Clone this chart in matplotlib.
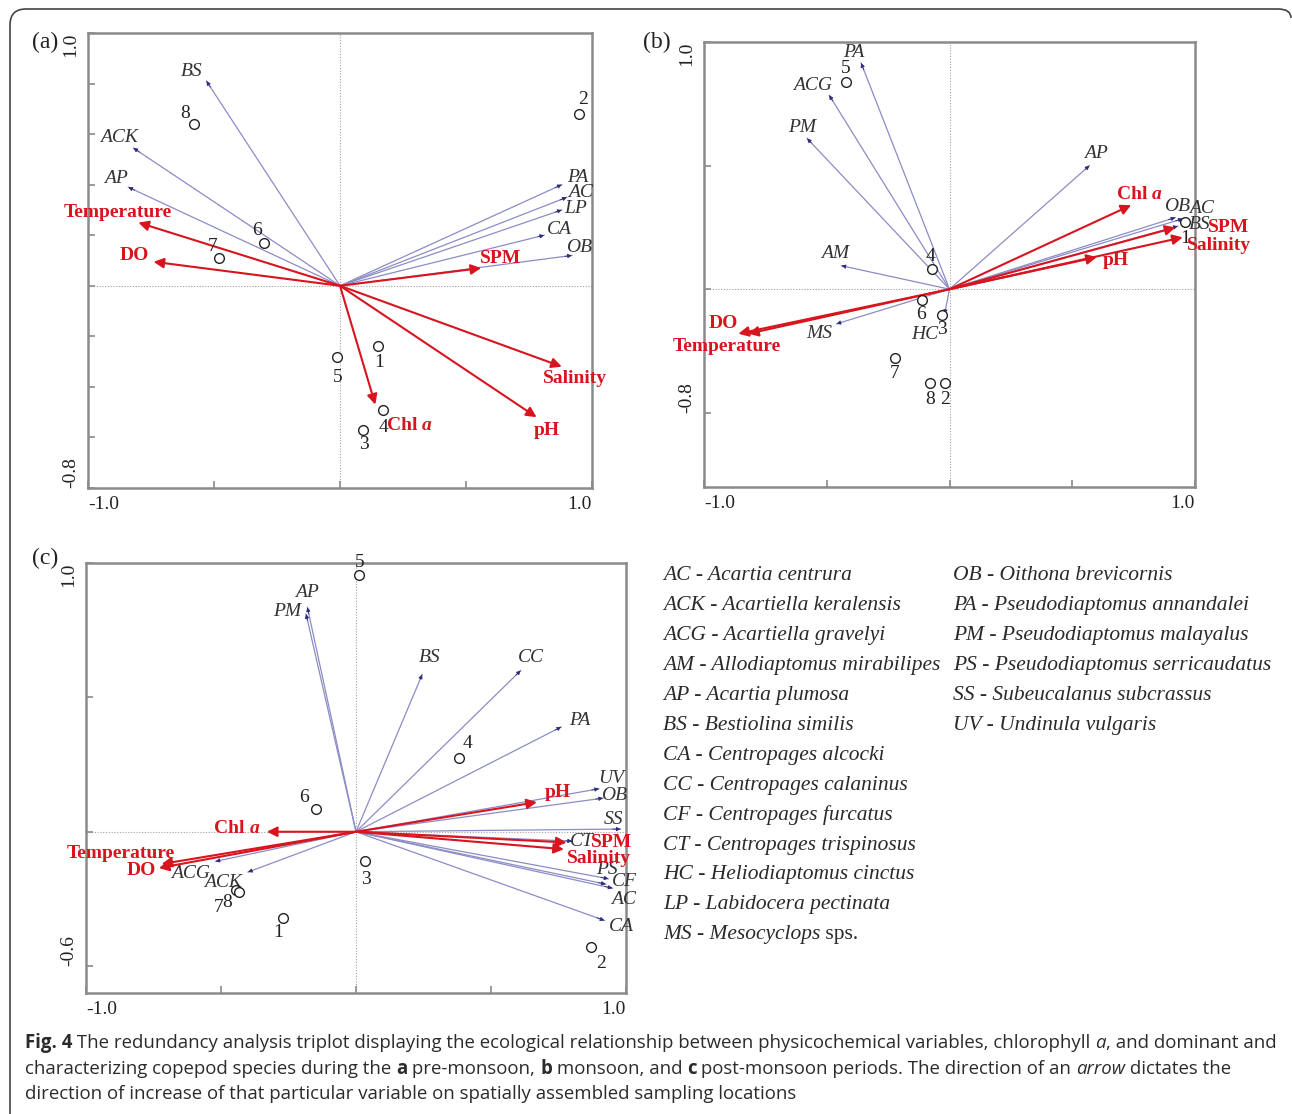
#!/usr/bin/env python3
"""
RDA triplots (pre-monsoon, monsoon, post-monsoon) with species key and caption.
"""

import matplotlib
matplotlib.use('Agg')
import matplotlib.pyplot as plt
from matplotlib.path import Path
from matplotlib.patches import PathPatch
import matplotlib.transforms as mtransforms

# ---------------- data ----------------
# (a) pre-monsoon
a_species = ['BS', 'ACK', 'AP', 'PA', 'AC', 'LP', 'CA', 'OB']
a_sp_x = [-0.53, -0.82, -0.84, 0.88, 0.90, 0.88, 0.81, 0.92]
a_sp_y = [0.81, 0.545, 0.39, 0.40, 0.35, 0.30, 0.20, 0.12]
a_env = ['Temperature', 'DO', 'SPM', 'Salinity', 'pH', 'Chl a']
a_env_x = [-0.80, -0.74, 0.56, 0.88, 0.78, 0.14]
a_env_y = [0.25, 0.095, 0.07, -0.32, -0.52, -0.47]
a_sites = ['1', '2', '3', '4', '5', '6', '7', '8']
a_site_x = [0.15, 0.95, 0.09, 0.17, -0.01, -0.30, -0.48, -0.58]
a_site_y = [-0.24, 0.68, -0.57, -0.49, -0.28, 0.17, 0.11, 0.64]

# (b) monsoon
b_species = ['PA', 'ACG', 'PM', 'AM', 'MS', 'HC', 'AP', 'OB', 'AC', 'BS']
b_sp_x = [-0.36, -0.49, -0.58, -0.44, -0.46, -0.02, 0.57, 0.92, 0.95, 0.93]
b_sp_y = [0.915, 0.785, 0.61, 0.095, -0.14, -0.10, 0.50, 0.29, 0.285, 0.255]
b_env = ['Chl a', 'SPM', 'Salinity', 'pH', 'DO', 'Temperature']
b_env_x = [0.74, 0.92, 0.95, 0.60, -0.86, -0.82]
b_env_y = [0.34, 0.25, 0.21, 0.13, -0.18, -0.18]
b_sites = ['1', '2', '3', '4', '5', '6', '7', '8']
b_site_x = [0.96, -0.02, -0.03, -0.07, -0.42, -0.11, -0.22, -0.08]
b_site_y = [0.27, -0.38, -0.105, 0.08, 0.84, -0.045, -0.28, -0.38]

# (c) post-monsoon
c_species = ['AP', 'PM', 'BS', 'CC', 'PA', 'UV', 'OB', 'SS', 'CT', 'PS', 'CF', 'AC', 'CA', 'ACG', 'ACK']
c_sp_x = [-0.18, -0.185, 0.245, 0.61, 0.76, 0.90, 0.915, 0.98, 0.80, 0.935, 0.925, 0.95, 0.92, -0.52, -0.40]
c_sp_y = [0.835, 0.81, 0.585, 0.60, 0.39, 0.16, 0.125, 0.01, -0.035, -0.175, -0.195, -0.21, -0.33, -0.11, -0.15]
c_env = ['pH', 'Chl a', 'SPM', 'Salinity', 'Temperature', 'DO']
c_env_x = [0.67, -0.33, 0.78, 0.77, -0.72, -0.73]
c_env_y = [0.11, 0.0, -0.04, -0.065, -0.12, -0.135]
c_sites = ['1', '2', '3', '4', '5', '6', '7', '8']
c_site_x = [-0.27, 0.87, 0.035, 0.38, 0.01, -0.15, -0.445, -0.435]
c_site_y = [-0.32, -0.43, -0.11, 0.275, 0.955, 0.085, -0.215, -0.225]

key_col1 = [('AC', 'Acartia centrura'), ('ACK', 'Acartiella keralensis'),
            ('ACG', 'Acartiella gravelyi'), ('AM', 'Allodiaptomus mirabilipes'),
            ('AP', 'Acartia plumosa'), ('BS', 'Bestiolina similis'),
            ('CA', 'Centropages alcocki'), ('CC', 'Centropages calaninus'),
            ('CF', 'Centropages furcatus'), ('CT', 'Centropages trispinosus'),
            ('HC', 'Heliodiaptomus cinctus'), ('LP', 'Labidocera pectinata'),
            ('MS', 'Mesocyclops')]
key_col2 = [('OB', 'Oithona brevicornis'), ('PA', 'Pseudodiaptomus annandalei'),
            ('PM', 'Pseudodiaptomus malayalus'), ('PS', 'Pseudodiaptomus serricaudatus'),
            ('SS', 'Subeucalanus subcrassus'), ('UV', 'Undinula vulgaris')]

# ---------------- layout / style ----------------
W, H = 1292, 1114
SERIF = 'Liberation Serif'
RED = '#d8141e'
LINE_BLUE = '#8c8cc6'
HEAD_BLUE = '#2c2c7a'
SPINE = '#8a8a8a'

# label offsets in pixels (dx, dy up) relative to arrow tip / site
a_sp_off = {'BS': (-15, 10), 'ACK': (-14, 11), 'AP': (-12, 9), 'PA': (16, 7),
            'AC': (14, 5), 'LP': (14, 1), 'CA': (15, 6), 'OB': (7, 8)}
a_env_off = {'Temperature': (-21, 10), 'DO': (-19, 6), 'SPM': (19, 10),
             'Salinity': (13, -12), 'pH': (10, -13), 'Chl a': (34, -21)}
a_site_off = {'1': (1, -16), '2': (4, 14), '3': (1, -15), '4': (1, -18),
              '5': (0, -21), '6': (-7, 12), '7': (-6, 11), '8': (-9, 11)}

b_sp_off = {'PA': (-7, 11), 'ACG': (-17, 10), 'PM': (-5, 11), 'AM': (-6, 12),
            'MS': (-17, -10), 'HC': (-20, -21), 'AP': (7, 12), 'OB': (2, 11),
            'AC': (19, 10), 'BS': (22, 2)}
b_env_off = {'Chl a': (8, 11), 'SPM': (53, 0), 'Salinity': (36, -8), 'pH': (19, -3),
             'DO': (-15, 10), 'Temperature': (-21, -13)}
b_site_off = {'1': (0, -16), '2': (0, -16), '3': (0, -14), '4': (-2, 13),
              '5': (-1, 13), '6': (-1, -14), '7': (-1, -15), '8': (0, -16)}

c_sp_off = {'AP': (0, 15), 'PM': (-19, 3), 'BS': (7, 17), 'CC': (10, 13), 'PA': (19, 6),
            'UV': (12, 10), 'OB': (11, 3), 'SS': (-7, 10), 'CT': (10, 0), 'PS': (-2, 9),
            'CF': (19, 3), 'AC': (11, -11), 'CA': (17, -6), 'ACG': (-25, -12),
            'ACK': (-25, -10)}
c_env_off = {'pH': (21, 10), 'Chl a': (-30, 3), 'SPM': (45, 0), 'Salinity': (35, -9),
             'Temperature': (-41, 11), 'DO': (-18, -2)}
c_site_off = {'1': (-5, -15), '2': (10, -16), '3': (0, -18), '4': (9, 14),
              '5': (1, 13), '6': (-12, 11), '7': (-17, -18), '8': (-11, -10)}

fig = plt.figure(figsize=(W / 100, H / 100), dpi=100)
fig.patch.set_facecolor('white')
renderer = fig.canvas.get_renderer()


def rect(l, t, r, b):
    return [l / W, (H - b) / H, (r - l) / W, (b - t) / H]


def adv(s, **kw):
    """advance width of s in pixels (spaces included)"""
    t1 = fig.text(0, 0, 'x' + s + 'x', **kw)
    t0 = fig.text(0, 0, 'xx', **kw)
    w = t1.get_window_extent(renderer).width - t0.get_window_extent(renderer).width
    t1.remove()
    t0.remove()
    return w


def runs_at(x_px, y_px, runs, ha='left', va='baseline'):
    """draw text runs at pixel position (from top-left)"""
    widths = [adv(s, **kw) for s, kw in runs]
    x = x_px
    if ha == 'center':
        x = x_px - sum(widths) / 2
    for (s, kw), w in zip(runs, widths):
        fig.text(x / W, 1 - y_px / H, s, ha='left', va=va, **kw)
        x += w


def env_label(ax, name, x, y, off):
    fp = dict(fontfamily=SERIF, fontsize=14, fontweight='bold', color=RED)
    if name == 'Chl a':
        px, py = ax.transData.transform((x, y))
        runs = [('Chl ', fp), ('a', dict(fp, fontstyle='italic'))]
        runs_at(px + off[0], H - (py + off[1]), runs, ha='center', va='center')
    else:
        ax.annotate(name, xy=(x, y), xytext=off, textcoords='offset pixels',
                    ha='center', va='center', **fp)


def triplot(ax, sp, spx, spy, sp_off, env, ex, ey, env_off,
            sites, stx, sty, site_off, ylo, ystep, tag, tag_xy):
    ax.set_xlim(-1, 1)
    ax.set_ylim(ylo, 1)
    ax.axhline(0, color='#a0a0a0', lw=0.8, ls=(0, (1, 1.5)), zorder=0)
    ax.axvline(0, color='#a0a0a0', lw=0.8, ls=(0, (1, 1.5)), zorder=0)

    # species arrows
    for n, x, y in zip(sp, spx, spy):
        ax.plot([0, x], [0, y], color=LINE_BLUE, lw=0.9, zorder=2)
        ax.annotate('', xy=(x, y), xytext=(x * 0.97, y * 0.97),
                    arrowprops=dict(arrowstyle='-|>', color=HEAD_BLUE, lw=0.6,
                                    mutation_scale=6, shrinkA=0, shrinkB=0), zorder=3)
        ax.annotate(n, xy=(x, y), xytext=sp_off[n], textcoords='offset pixels',
                    ha='center', va='center', fontfamily=SERIF, fontstyle='italic',
                    fontsize=14, color='#333333')

    # environmental arrows
    for n, x, y in zip(env, ex, ey):
        ax.annotate('', xy=(x, y), xytext=(0, 0),
                    arrowprops=dict(arrowstyle='-|>', color=RED, lw=1.5,
                                    mutation_scale=15, shrinkA=0, shrinkB=0), zorder=4)
        env_label(ax, n, x, y, env_off[n])

    # sampling sites
    ax.plot(stx, sty, 'o', mfc='white', mec='#222222', ms=7, mew=1.0, zorder=5)
    for n, x, y in zip(sites, stx, sty):
        ax.annotate(n, xy=(x, y), xytext=site_off[n], textcoords='offset pixels',
                    ha='center', va='center', fontfamily=SERIF, fontsize=14,
                    color='#222222', zorder=6)

    # axes cosmetics
    for s in ax.spines.values():
        s.set_color(SPINE)
        s.set_linewidth(1.8)
    xt = [-1, -0.5, 0, 0.5, 1]
    ax.set_xticks(xt)
    ax.set_xticklabels(['-1.0', '', '', '', '1.0'])
    yt = []
    v = 1.0
    while v >= ylo - 1e-9:
        yt.append(round(v, 2))
        v -= ystep
    ax.set_yticks(yt)
    ax.set_yticklabels(['1.0'] + [''] * (len(yt) - 2) + ['%.1f' % ylo])
    ax.tick_params(direction='in', length=5, width=1.2, color=SPINE,
                   labelsize=14, pad=6, top=False, right=False)
    for lab in ax.get_xticklabels() + ax.get_yticklabels():
        lab.set_fontfamily(SERIF)
        lab.set_color('#222222')
    xl = ax.get_xticklabels()
    xl[0].set_ha('left')
    xl[-1].set_ha('right')
    yl = ax.get_yticklabels()
    for lab in yl:
        lab.set_rotation(90)
        lab.set_ha('right')
    yl[0].set_va('top')
    yl[-1].set_va('bottom')

    fig.text(tag_xy[0] / W, 1 - tag_xy[1] / H, tag, fontfamily=SERIF, fontsize=17,
             ha='center', va='center', color='#222222')


ax_a = fig.add_axes(rect(88, 33, 592, 488))
triplot(ax_a, a_species, a_sp_x, a_sp_y, a_sp_off, a_env, a_env_x, a_env_y, a_env_off,
        a_sites, a_site_x, a_site_y, a_site_off, -0.8, 0.2, '(a)', (45, 42))

ax_b = fig.add_axes(rect(704, 42, 1195, 487))
triplot(ax_b, b_species, b_sp_x, b_sp_y, b_sp_off, b_env, b_env_x, b_env_y, b_env_off,
        b_sites, b_site_x, b_site_y, b_site_off, -0.8, 0.5, '(b)', (657, 42))

ax_c = fig.add_axes(rect(86, 563, 626, 993))
triplot(ax_c, c_species, c_sp_x, c_sp_y, c_sp_off, c_env, c_env_x, c_env_y, c_env_off,
        c_sites, c_site_x, c_site_y, c_site_off, -0.6, 0.5, '(c)', (45, 558))

# ---------------- species key ----------------
key_fp = dict(fontfamily=SERIF, fontstyle='italic', fontsize=15, color='#2a2a2a')
key_size = 15 * 279 / adv('AM - Allodiaptomus mirabilipes', **key_fp)
key_fp['fontsize'] = key_size
row0, step = 576, 29.9
for i, (ab, nm) in enumerate(key_col1):
    runs = [(ab + ' - ' + nm, key_fp)]
    if ab == 'MS':
        runs.append((' sps.', dict(key_fp, fontstyle='normal')))
    runs_at(663, row0 + i * step, runs, va='center')
for i, (ab, nm) in enumerate(key_col2):
    runs_at(953, row0 + i * step, [(ab + ' - ' + nm, key_fp)], va='center')

# ---------------- caption ----------------
cap = dict(fontfamily='Open Sans', fontsize=10, color='#2b2b2b')
cap_b = dict(cap, fontweight='bold')
cap_i = dict(cap, fontstyle='italic')
line1 = [('Fig. 4', cap_b),
         (' The redundancy analysis triplot displaying the ecological relationship between '
          'physicochemical variables, chlorophyll ', cap),
         ('a', cap_i), (', and dominant and', cap)]
w1 = sum(adv(s, **kw) for s, kw in line1)
scale = 1250 / w1
for kw in (cap, cap_b, cap_i):
    kw['fontsize'] = 10 * scale
line1 = [('Fig. 4', cap_b),
         (' The redundancy analysis triplot displaying the ecological relationship between '
          'physicochemical variables, chlorophyll ', cap),
         ('a', cap_i), (', and dominant and', cap)]
line2 = [('characterizing copepod species during the ', cap), ('a', cap_b),
         (' pre-monsoon, ', cap), ('b', cap_b), (' monsoon, and ', cap), ('c', cap_b),
         (' post-monsoon periods. The direction of an ', cap), ('arrow', cap_i),
         (' dictates the', cap)]
line3 = [('direction of increase of that particular variable on spatially assembled '
          'sampling locations', cap)]
for ln, yb in zip([line1, line2, line3], [1048, 1073.5, 1099]):
    runs_at(25, yb, ln)

# ---------------- outer frame ----------------
verts = [(10, 1114), (10, 25), (10, 9), (26, 9), (1278, 9), (1291, 9), (1291, 18)]
codes = [Path.MOVETO, Path.LINETO, Path.CURVE3, Path.CURVE3, Path.LINETO,
         Path.CURVE3, Path.CURVE3]
verts = [(x, H - y) for x, y in verts]
to_fig = mtransforms.Affine2D().scale(1 / W, 1 / H) + fig.transFigure
fig.patches.append(PathPatch(Path(verts, codes), facecolor='none', edgecolor='#444444',
                             lw=1.2, transform=to_fig))

fig.savefig('out.png', dpi=100)
